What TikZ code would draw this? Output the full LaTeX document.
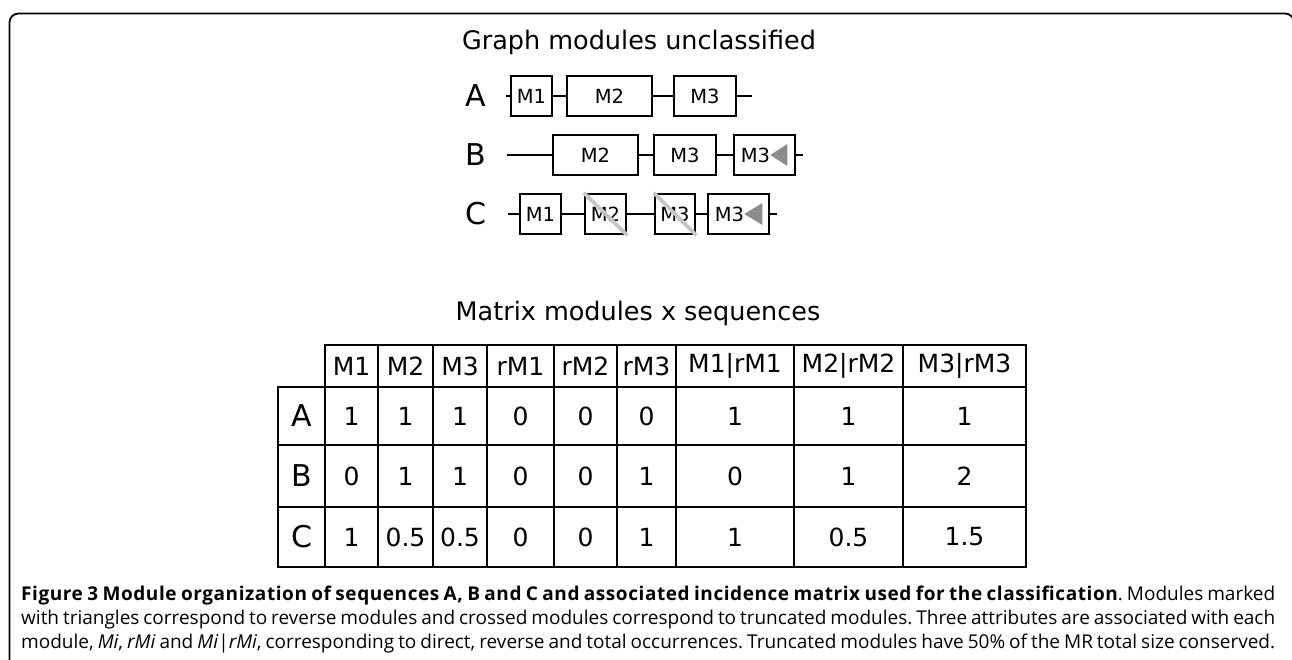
\documentclass[tikz,border=0pt]{standalone}
\usepackage{fontspec}
\setmainfont{Open Sans}
\newfontfamily\figfont{DejaVu Sans}
\usepackage{tikz}
\usetikzlibrary{positioning,calc}

\begin{document}
\begin{tikzpicture}[x=1pt, y=-1pt,
    modbox/.style={draw, rectangle, line width=2.6pt, minimum height=40pt, inner sep=0pt, font=\figfont\fontsize{19.5}{19.5}\selectfont},
    seqlabel/.style={font=\figfont\fontsize{30}{30}\selectfont},
    figtitle/.style={font=\figfont\fontsize{25.5}{25.5}\selectfont, anchor=base},
    cell/.style={font=\figfont\fontsize{25}{25}\selectfont, inner sep=0pt},
    link/.style={line width=2.6pt},
    cut/.style={line width=3.8pt, gray!45},
    rev/.style={fill=gray!90},
    grid/.style={line width=2.2pt, line cap=rect}]
  \useasboundingbox (0,0) rectangle (1292,659);
  % cornice
  \begin{scope}
    \clip (0,0) rectangle (1292,659);
    \draw[line width=1.8pt, rounded corners=9pt] (9.5,720) -- (9.5,13.5) -- (1294,13.5) -- (1294,720);
  \end{scope}

  % grafo dei moduli
  \node[figtitle] (gtitle) at (639,49) {Graph modules unclassified};

  \node[seqlabel] (la) at (476,96) {A};
  \node[modbox, minimum width=41pt] (a1) at (531.5,96) {M1};
  \node[modbox, minimum width=85pt] (a2) at (609.5,96) {M2};
  \node[modbox, minimum width=62pt] (a3) at (705,96) {M3};
  \coordinate (as) at (506,96);
  \coordinate (ae) at (752,96);
  \draw[link] (as) -- (a1) (a1) -- (a2) (a2) -- (a3) (a3) -- (ae);

  \node[seqlabel] (lb) at (476,155) {B};
  \node[modbox, minimum width=85pt] (b2) at (595.5,155) {M2};
  \node[modbox, minimum width=62pt] (b3) at (685,155) {M3};
  \node[modbox, minimum width=61pt] (b3r) at (764.5,155) {M3\hspace*{18pt}};
  \coordinate (bs) at (507,155);
  \coordinate (be) at (803,155);
  \draw[link] (bs) -- (b2) (b2) -- (b3) (b3) -- (b3r) (b3r) -- (be);
  \fill[rev] ([xshift=-9pt]b3r.east) -- ++(0,-11) -- ++(-17,11) -- ++(17,11) -- cycle;

  \node[seqlabel] (lc) at (476,214) {C};
  \node[modbox, minimum width=41pt] (c1) at (540.5,214) {M1};
  \node[modbox, minimum width=41pt] (c2) at (605.5,214) {M2};
  \node[modbox, minimum width=40pt] (c3) at (675,214) {M3};
  \node[modbox, minimum width=61pt] (c3r) at (738.5,214) {M3\hspace*{18pt}};
  \coordinate (cs) at (508,214);
  \coordinate (ce) at (777,214);
  \draw[link] (cs) -- (c1) (c1) -- (c2) (c2) -- (c3) (c3) -- (c3r) (c3r) -- (ce);
  \fill[rev] ([xshift=-8pt]c3r.east) -- ++(0,-11) -- ++(-18,11) -- ++(18,11) -- cycle;
  \draw[cut] (c2.north west) -- (c2.south east);
  \draw[cut] (c3.north west) -- (c3.south east);

  % matrice moduli x sequenze
  \node[figtitle] (mtitle) at (638,320) {Matrix modules x sequences};

  \draw[grid] (325,345) -- (1026,345);
  \foreach \y in {387,445,507,567}
    \draw[grid] (278,\y) -- (1026,\y);
  \draw[grid] (278,387) -- (278,567);
  \foreach \x in {325,378,433,487,554,617,676,794,903,1026}
    \draw[grid] (\x,345) -- (\x,567);

  \foreach \x/\v [count=\i] in {351.5/M1, 405.5/M2, 460/M3, 520.5/rM1, 585.5/rM2, 646.5/rM3, 735/M1|rM1, 848.5/M2|rM2, 964.5/M3|rM3}
    \node[cell] (th\i) at (\x,366) {\v};
  \foreach \x/\v [count=\i] in {351.5/1, 405.5/1, 460/1, 520.5/0, 585.5/0, 646.5/0, 735/1, 848.5/1, 964.5/1}
    \node[cell] (ta\i) at (\x,416) {\v};
  \foreach \x/\v [count=\i] in {351.5/0, 405.5/1, 460/1, 520.5/0, 585.5/0, 646.5/1, 735/0, 848.5/1, 964.5/2}
    \node[cell] (tb\i) at (\x,476) {\v};
  \foreach \x/\v [count=\i] in {351.5/1, 405.5/0.5, 460/0.5, 520.5/0, 585.5/0, 646.5/1, 735/1, 848.5/0.5, 964.5/1.5}
    \node[cell] (tc\i) at (\x,537) {\v};

  \node[seqlabel] (ra) at (301.5,416) {A};
  \node[seqlabel] (rb) at (301.5,476) {B};
  \node[seqlabel] (rc) at (301.5,537) {C};

  % didascalia
  \node[anchor=north west, text width=1254pt, align=justify, inner sep=0pt, font=\fontsize{19}{24}\selectfont\frenchspacing] (caption) at (21,586)
    {\parfillskip=0pt {\bfseries\addfontfeature{LetterSpace=3}Figure 3 Module organization of sequences A, B and C and associated incidence matrix used for the classification}. Modules marked\linebreak
     with triangles correspond to reverse modules and crossed modules correspond to truncated modules. Three attributes are associated with each\linebreak
     module, \textit{Mi}, \textit{rMi} and \textit{Mi}|\textit{rMi}, corresponding to direct, reverse and total occurrences. Truncated modules have 50\% of the MR total size conserved.\par};
\end{tikzpicture}
\end{document}
